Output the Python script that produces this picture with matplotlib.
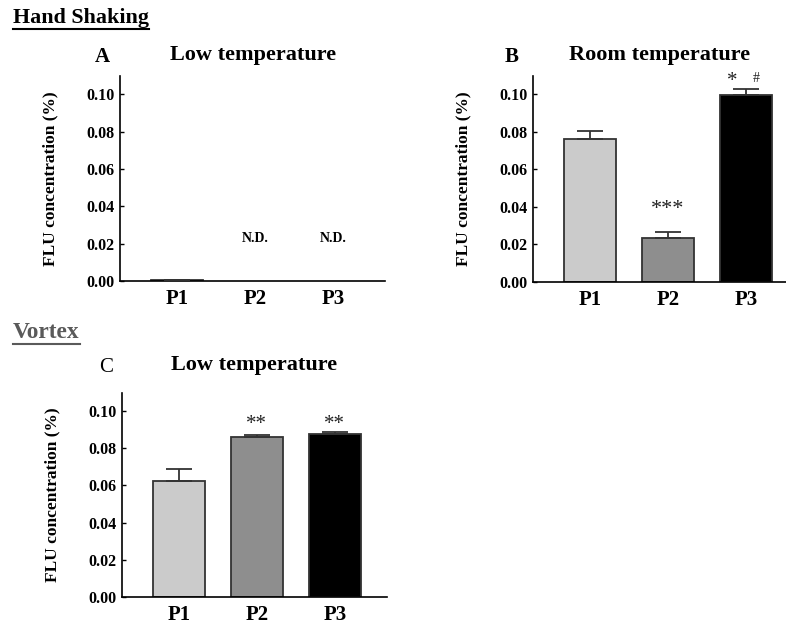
import matplotlib
matplotlib.use("Agg")
import matplotlib.pyplot as plt
import numpy as np

plt.rcParams['font.family'] = ['Liberation Serif', 'DejaVu Serif']

groups = ["P1", "P2", "P3"]
colors = ["#cbcbcb", "#8e8e8e", "#000000"]

# Panel A: Hand shaking, low temperature
a_vals = [0.0005, 0.0, 0.0]
a_errs = [0.0003, 0.0, 0.0]
a_show = [True, False, False]
a_notes = ["", "N.D.", "N.D."]

# Panel B: Hand shaking, room temperature
b_vals = [0.0763, 0.0233, 0.0998]
b_errs = [0.0042, 0.0035, 0.0028]

# Panel C: Vortex, low temperature
c_vals = [0.0625, 0.0862, 0.0877]
c_errs = [0.0065, 0.0010, 0.0010]
c_notes = ["", "**", "**"]

yticks = [0.00, 0.02, 0.04, 0.06, 0.08, 0.10]

W, H = 786, 626
fig = plt.figure(figsize=(W / 100, H / 100), dpi=100)

def make_ax(left, bottom, right, top):
    return fig.add_axes([left / W, 1 - bottom / H, (right - left) / W, (bottom - top) / H])

def style(ax):
    x = np.arange(len(groups))
    ax.set_xlim(-0.73, 2.67)
    ax.set_ylim(0, 0.1097)
    ax.set_yticks(yticks)
    ax.set_yticklabels([f"{t:.2f}" for t in yticks], fontsize=11.5, fontweight='bold')
    ax.set_xticks(x)
    ax.set_xticklabels(groups, fontsize=15, fontweight='bold')
    ax.tick_params(axis='x', length=0, pad=6)
    ax.tick_params(axis='y', direction='in', length=3, pad=4, width=1)
    for s in ['top', 'right']:
        ax.spines[s].set_visible(False)
    for s in ['left', 'bottom']:
        ax.spines[s].set_linewidth(1.2)
    ax.set_ylabel("FLU concentration (%)", fontsize=12.5, fontweight='bold', labelpad=20)

def bars(ax, vals, errs, show=None):
    x = np.arange(len(groups))
    for i, (v, e, c) in enumerate(zip(vals, errs, colors)):
        if show is not None and not show[i]:
            continue
        ax.bar(x[i], v, width=0.67, color=c, edgecolor="#333333", linewidth=1.3, zorder=2)
        ax.errorbar(x[i], v, yerr=[[0], [e]], fmt='none', ecolor="#333333",
                    elinewidth=1.3, capsize=9.4, capthick=1.3, zorder=3)

# Panel A
axA = make_ax(120, 281, 385, 76)
bars(axA, a_vals, a_errs, a_show)
style(axA)
for i, n in enumerate(a_notes):
    if n:
        axA.text(i, 0.0225, n, ha='center', va='center', fontsize=10, fontweight='bold')

# Panel B
axB = make_ax(533, 282, 798, 76)
bars(axB, b_vals, b_errs)
style(axB)
axB.text(1, 0.0385, "***", ha='center', va='center', fontsize=16, color="#222222")
axB.text(1.83, 0.1070, "*", ha='center', va='center', fontsize=15, color="#222222")
axB.text(2.13, 0.1085, "#", ha='center', va='center', fontsize=10, color="#222222")

# Panel C
axC = make_ax(122, 597, 387, 393)
bars(axC, c_vals, c_errs)
style(axC)
for i, n in enumerate(c_notes):
    if n:
        axC.text(i, 0.0925, n, ha='center', va='center', fontsize=15, color="#222222")

# Titles and labels
fig.text(253 / W, 1 - 55 / H, "Low temperature", ha='center', va='center', fontsize=16, fontweight='bold')
fig.text(660 / W, 1 - 55 / H, "Room temperature", ha='center', va='center', fontsize=16, fontweight='bold')
fig.text(254 / W, 1 - 365 / H, "Low temperature", ha='center', va='center', fontsize=16, fontweight='bold')
fig.text(102 / W, 1 - 57 / H, "A", ha='center', va='center', fontsize=15, fontweight='bold')
fig.text(512 / W, 1 - 57 / H, "B", ha='center', va='center', fontsize=15, fontweight='bold')
fig.text(106 / W, 1 - 368 / H, "C", ha='center', va='center', fontsize=15)

t1 = fig.text(13 / W, 1 - 18 / H, "Hand Shaking", ha='left', va='center', fontsize=15.8, fontweight='bold')
t2 = fig.text(13 / W, 1 - 332 / H, "Vortex", ha='left', va='center', fontsize=16.8, fontweight='bold', color="#5a5a5a")

fig.canvas.draw()
for t, col in [(t1, "black"), (t2, "#5a5a5a")]:
    bb = t.get_window_extent()
    y = bb.y0 - 1
    fig.add_artist(plt.Line2D([bb.x0 / W, bb.x1 / W], [y / H, y / H], color=col, linewidth=1.5,
                              transform=fig.transFigure))

fig.savefig("out.png", dpi=100)
